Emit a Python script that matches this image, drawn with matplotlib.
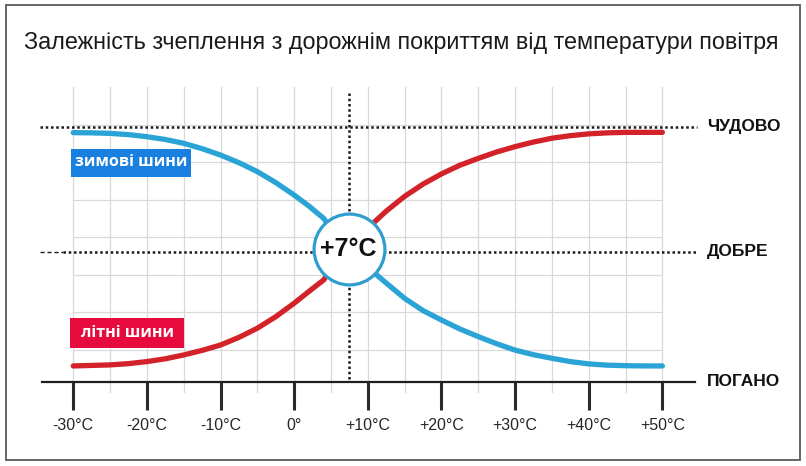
import matplotlib
matplotlib.use("Agg")
import matplotlib.pyplot as plt
from matplotlib.patches import Rectangle

# ---------------- data ----------------
temps = [-30, -27.5, -25, -22.5, -20, -17.5, -15, -12.5, -10, -7.5, -5, -2.5, 0, 2, 4, 7,
         11, 12.5, 15, 17.5, 20, 22.5, 25, 27.5, 30, 32.5, 35, 37.5, 40, 42.5, 45, 47.5, 50]
winter = [97.8, 97.7, 97.5, 97.0, 96.2, 95.1, 93.6, 91.5, 89.0, 86.0, 82.5, 78.2, 73.3, 69.0, 64.2, 52,
          42.5, 38.8, 32.8, 28.0, 24.3, 20.8, 17.8, 15.0, 12.5, 10.7, 9.3, 8.0, 7.1, 6.6, 6.4, 6.3, 6.3]
summer = [6.3, 6.5, 6.7, 7.2, 8.0, 9.1, 10.6, 12.4, 14.5, 17.5, 21.1, 25.6, 30.9, 35.5, 40.0, 52,
          63.0, 67.0, 72.8, 77.6, 81.6, 85.0, 87.7, 90.2, 92.3, 94.1, 95.6, 96.6, 97.3, 97.7, 97.9, 97.9, 97.9]
tick_temps = [-30, -20, -10, 0, 10, 20, 30, 40, 50]
tick_labels = ["-30°C", "-20°C", "-10°C", "0°", "+10°C", "+20°C", "+30°C", "+40°C", "+50°C"]
levels = [100, 51, 0]
level_labels = ["ЧУДОВО", "ДОБРЕ", "ПОГАНО"]
cross_temp = 7
cross_value = 52
cross_label = "+7°C"
winter_label = "зимові шини"
summer_label = "літні шини"
title = "Залежність зчеплення з дорожнім покриттям від температури повітря"

base = "Liberation Sans"

W, H = 806, 466
fig = plt.figure(figsize=(W / 100, H / 100), dpi=100)
ax = fig.add_axes([0, 0, 1, 1])

# pixel mapping (layout)
SX = 7.364            # px per degree
PX10 = 367.8          # px of +10
SY = 2.55             # px per rating unit
PY0 = 382.0           # px of rating 0
x0 = 10 - PX10 / SX
x1 = 10 + (W - PX10) / SX
y0 = -(H - PY0) / SY
y1 = PY0 / SY
ax.set_xlim(x0, x1)
ax.set_ylim(y0, y1)
ax.axis("off")


def tx(px):
    return 10 + (px - PX10) / SX


def ry(py):
    return (PY0 - py) / SY


# frame
fig.patches.append(Rectangle((6 / W, 1 - 460 / H), 794 / W, 455 / H, transform=fig.transFigure,
                             fill=False, edgecolor="#5a5a5a", linewidth=1.3))

# grid
gcol = "#d9d9d9"
for t in range(-30, 51, 5):
    ax.plot([t, t], [ry(87), ry(392)], color=gcol, lw=0.9, zorder=1)
for k in range(7):
    py = 124.5 + 37.5 * k
    ax.plot([-30, 50], [ry(py), ry(py)], color=gcol, lw=0.9, zorder=1)

# dotted reference lines
cx = cross_temp + 0.4
dot = dict(color="#1a1a1a", lw=1.8, ls=(0, (1, 1.1)), zorder=3)
ax.plot([tx(40), tx(697)], [levels[0], levels[0]], **dot)
ax.plot([tx(63), tx(697)], [levels[1], levels[1]], **dot)
ax.plot([tx(40), tx(63)], [levels[1], levels[1]], color="#1a1a1a", lw=1.0, ls=(0, (3, 2)), zorder=3)
ax.plot([cx, cx], [ry(93), levels[2]], **dot)

# x axis line and ticks
ax.plot([tx(42), tx(695)], [levels[2], levels[2]], color="#1e1e1e", lw=1.6, zorder=4)
for t, lab in zip(tick_temps, tick_labels):
    ax.plot([t, t], [levels[2], ry(410)], color="#2a2a2a", lw=2.2, zorder=4, solid_capstyle="butt")
    ax.text(t, ry(425), lab, ha="center", va="center", fontsize=11.5, color="#262626",
            family=[base, "DejaVu Sans"])

# level labels
for lv, lab in zip(levels, level_labels):
    ax.text(tx(707), lv, lab, ha="left", va="center", fontsize=12.5, fontweight="bold",
            color="#111111", family=[base, "DejaVu Sans"])

# curves
ax.plot(temps, winter, color="#2aa3d5", lw=3.8, solid_capstyle="round", solid_joinstyle="round", zorder=5)
ax.plot(temps, summer, color="#d3222a", lw=3.8, solid_capstyle="round", solid_joinstyle="round", zorder=5)

# crossing circle
ax.plot([cx], [cross_value], "o", ms=51, mfc="white", mec="#2f9dcd", mew=2.3, zorder=6)
ax.text(cx, cross_value, cross_label, ha="center", va="center", fontsize=18,
        fontweight="bold", color="#111111", family=[base, "DejaVu Sans"], zorder=7)


# series labels
def label_box(cxp, cyp, w, h, text, color):
    ax.add_patch(Rectangle((tx(cxp - w / 2), ry(cyp + h / 2)), w / SX, h / SY,
                           facecolor=color, edgecolor="none", zorder=8))
    ax.text(tx(cxp), ry(cyp), text, ha="center", va="center", fontsize=11.5, fontweight="bold",
            color="white", family=["Open Sans", "DejaVu Sans"], zorder=9)


label_box(131, 162.5, 120, 28, winter_label, "#1a80e0")
label_box(127, 333, 114, 30, summer_label, "#e60b3c")

# title
fig.text(401 / W, 1 - 43 / H, title, ha="center", va="center", fontsize=16.8, color="#1a1a1a",
         family=[base, "DejaVu Sans"])

fig.savefig("out.png", dpi=100)
